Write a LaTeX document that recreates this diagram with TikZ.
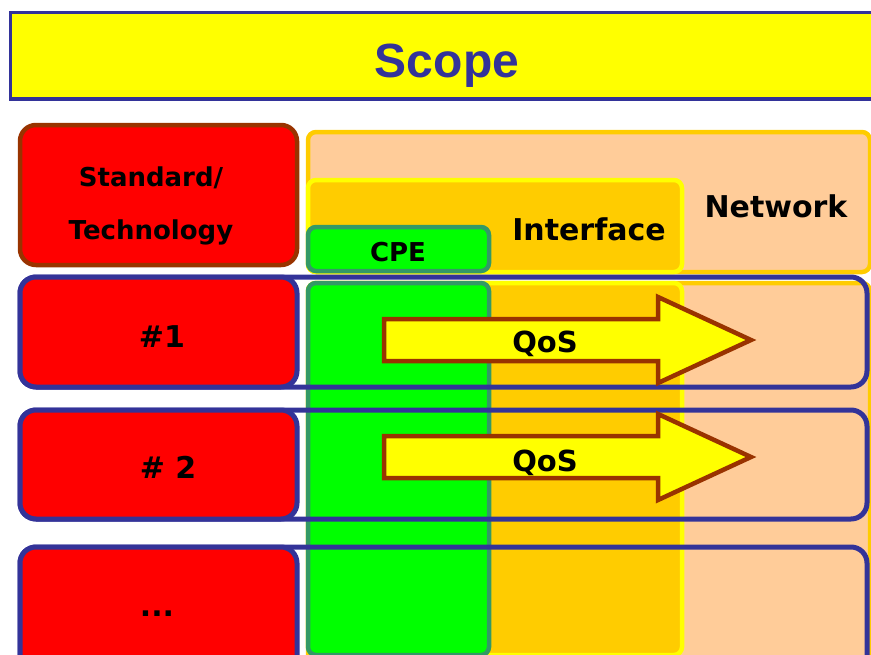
\documentclass[tikz,border=0pt]{standalone}
\usepackage{fontspec}
\setmainfont{DejaVu Sans}
\newfontfamily\titlefont{Liberation Sans}

\definecolor{navy}{HTML}{333399}
\definecolor{rust}{HTML}{993300}
\definecolor{lemon}{HTML}{FFFF00}
\definecolor{gold}{HTML}{FFCC00}
\definecolor{peach}{HTML}{FFCC99}
\definecolor{lime}{HTML}{00FF00}
\definecolor{seagreen}{HTML}{339966}

\tikzset{
  panel/.style={draw, line width=4.5pt, rounded corners=8pt, inner sep=0pt,
    outer sep=0pt, anchor=north west},
  netbox/.style={panel, fill=peach, draw=gold},
  ifbox/.style={panel, fill=gold, draw=lemon},
  cpebox/.style={panel, fill=lime, draw=seagreen},
  techbox/.style={panel, fill=red, rounded corners=16pt},
  rowframe/.style={panel, draw=navy, line width=5pt, rounded corners=16pt},
  qosarrow/.style={fill=lemon, draw=rust, line width=4.5pt, line join=miter},
  txt/.style={anchor=base, inner sep=0pt, outer sep=0pt, text=black},
  big/.style={txt, font=\bfseries\fontsize{30}{36}\selectfont},
  mid/.style={txt, font=\bfseries\fontsize{26}{31}\selectfont},
  qos/.style={txt, font=\bfseries\fontsize{29}{34}\selectfont},
}

\begin{document}
\begin{tikzpicture}[x=1pt, y=-1pt]
  \useasboundingbox (0,0) rectangle (871,654);

  % network layer (back)
  \node[netbox, minimum width=562pt, minimum height=140pt] (nettop) at (308,132) {};
  \node[netbox, minimum width=562pt, minimum height=380pt] (netcol) at (308,283) {};
  % interface layer
  \node[ifbox, minimum width=374pt, minimum height=92pt] (iftop) at (308,180) {};
  \node[ifbox, minimum width=374pt, minimum height=372pt] (ifcol) at (308,283) {};
  % customer premises equipment
  \node[cpebox, minimum width=181pt, minimum height=44pt] (cpetop) at (308,227) {};
  \node[cpebox, minimum width=181pt, minimum height=372pt] (cpecol) at (308,283) {};

  % title bar
  \node[panel, rounded corners=0pt, fill=lemon, draw=navy, line width=3pt,
        minimum width=880pt, minimum height=87pt] (titlebar) at (10,12) {};
  \draw[navy, line width=4pt] (titlebar.south west) -- (titlebar.south east);
  \node[anchor=base, inner sep=0pt, text=navy,
        font=\titlefont\bfseries\fontsize{48}{56}\selectfont] (title) at (447,77) {Scope};

  % header cell
  \node[techbox, draw=rust, minimum width=277pt, minimum height=140pt] (std) at (20,125) {};

  % technology rows
  \node[rowframe, minimum width=847pt, minimum height=110pt] (row1) at (20,277) {};
  \node[techbox, draw=navy, line width=5pt, minimum width=277pt, minimum height=110pt] (t1) at (20,277) {};
  \node[rowframe, minimum width=847pt, minimum height=109pt] (row2) at (20,410) {};
  \node[techbox, draw=navy, line width=5pt, minimum width=277pt, minimum height=109pt] (t2) at (20,410) {};
  \node[rowframe, minimum width=847pt, minimum height=130pt] (row3) at (20,547) {};
  \node[techbox, draw=navy, line width=5pt, minimum width=277pt, minimum height=130pt] (t3) at (20,547) {};

  % QoS arrows
  \foreach \cy in {340, 457} {
    \draw[qosarrow, shift={(0,\cy)}]
      (384,-21) -- (658,-21) -- (658,-43) -- (751,0) -- (658,43) -- (658,21)
      -- (384,21) -- cycle;
  }

  % labels
  \node[mid] (lstd) at (151,186) {Standard/};
  \node[mid] (ltech) at (151,239) {Technology};
  \node[big] (lnet) at (776,217) {Network};
  \node[big] (lif) at (589,240) {Interface};
  \node[mid] (lcpe) at (398,261) {CPE};
  \node[big] (l1) at (162,347) {\#1};
  \node[big] (l2) at (168,478) {\# 2};
  \node[big] (l3) at (157,616) {...};
  \node[qos] (q1) at (545,352) {QoS};
  \node[qos] (q2) at (545,471) {QoS};
\end{tikzpicture}
\end{document}
